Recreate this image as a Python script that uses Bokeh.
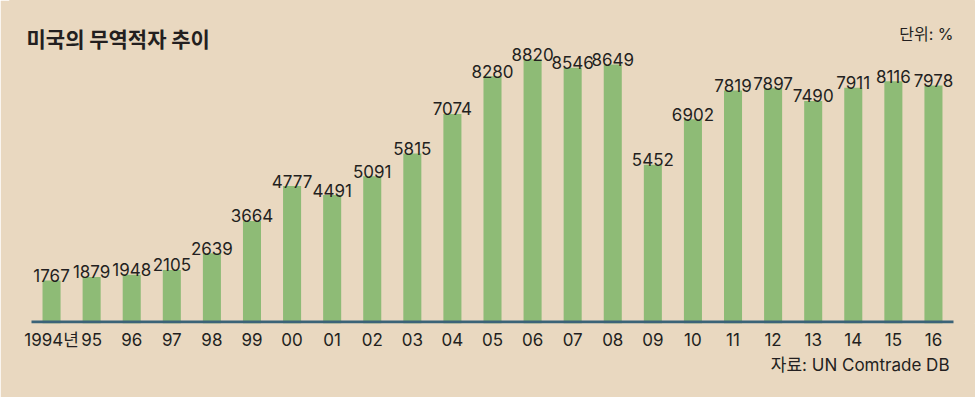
from bokeh.plotting import figure
from bokeh.models import FactorRange, Range1d, Label, ColumnDataSource, Title
from bokeh.core.properties import value
from bokeh.embed import file_html
from bokeh.resources import INLINE

years = ["1994년", "95", "96", "97", "98", "99", "00", "01", "02", "03", "04", "05",
         "06", "07", "08", "09", "10", "11", "12", "13", "14", "15", "16"]
deficit = [1767, 1879, 1948, 2105, 2639, 3664, 4777, 4491, 5091, 5815, 7074, 8280,
           8820, 8546, 8649, 5452, 6902, 7819, 7897, 7490, 7911, 8116, 7978]
labels = [str(v) for v in deficit]

title_text = "미국의 무역적자 추이"
unit_text = "단위: %"
source_text = "자료: UN Comtrade DB"

BG = "#E9D8C0"
GREEN = "#8EBB76"
LINE = "#3B6378"
INK = "#231F20"
FONT = "Inter, 'Noto Sans CJK KR'"
KFONT = "Noto Sans CJK KR"

W, H = 975, 397
ML, MR, MT, MB = 9, 0, 0, 74
UPP = 31.87               # value units per pixel
Y_BASE = 444              # value at the baseline
Y0 = Y_BASE - 1.5 * UPP
Y1 = Y0 + (H - MT - MB) * UPP
PAD = 0.549               # category units of padding on each side

src = ColumnDataSource(dict(year=years, val=deficit, lab=labels))

p = figure(width=W, height=H,
           x_range=FactorRange(factors=years, range_padding=PAD, range_padding_units="absolute"),
           y_range=Range1d(Y0, Y1),
           output_backend="svg", toolbar_location=None,
           min_border_left=ML, min_border_right=MR, min_border_top=MT, min_border_bottom=MB,
           background_fill_color=BG, border_fill_color=BG,
           outline_line_color=BG, outline_line_width=1)

p.vbar(x="year", top="val", bottom=0, width=0.45, source=src,
       fill_color=GREEN, line_color=None)
p.segment(x0=0, x1=len(years), y0=Y_BASE, y1=Y_BASE, line_color=LINE, line_width=3)
p.text(x="year", y="val", text="lab", source=src, text_align="center",
       text_baseline="alphabetic", y_offset=-5, text_font=value(FONT),
       text_font_size="17px", text_color=INK)

p.xgrid.visible = False
p.ygrid.visible = False
p.yaxis.visible = False
ax = p.xaxis[0]
ax.axis_line_color = None
ax.major_tick_line_color = None
ax.minor_tick_line_color = None
ax.major_tick_out = 0
ax.major_label_standoff = 6
ax.major_label_text_font = FONT
ax.major_label_text_font_size = "17px"
ax.major_label_text_color = INK

p.add_layout(Title(text=source_text, align="right", offset=26, standoff=0,
                   text_font=FONT, text_font_size="17px", text_font_style="normal",
                   text_color=INK), "below")

# screen positions relative to the plot frame (origin at frame bottom-left)
p.add_layout(Label(x=17, y=286, x_units="screen", y_units="screen", text=title_text,
                   text_align="left", text_baseline="middle", text_font=KFONT,
                   text_font_size="21px", text_font_style="bold", text_color=INK))
p.add_layout(Label(x=944, y=290, x_units="screen", y_units="screen", text=unit_text,
                   text_align="right", text_baseline="middle", text_font=FONT,
                   text_font_size="16px", text_color=INK))

html = file_html(p, INLINE)
open("out.html", "w").write(html)
